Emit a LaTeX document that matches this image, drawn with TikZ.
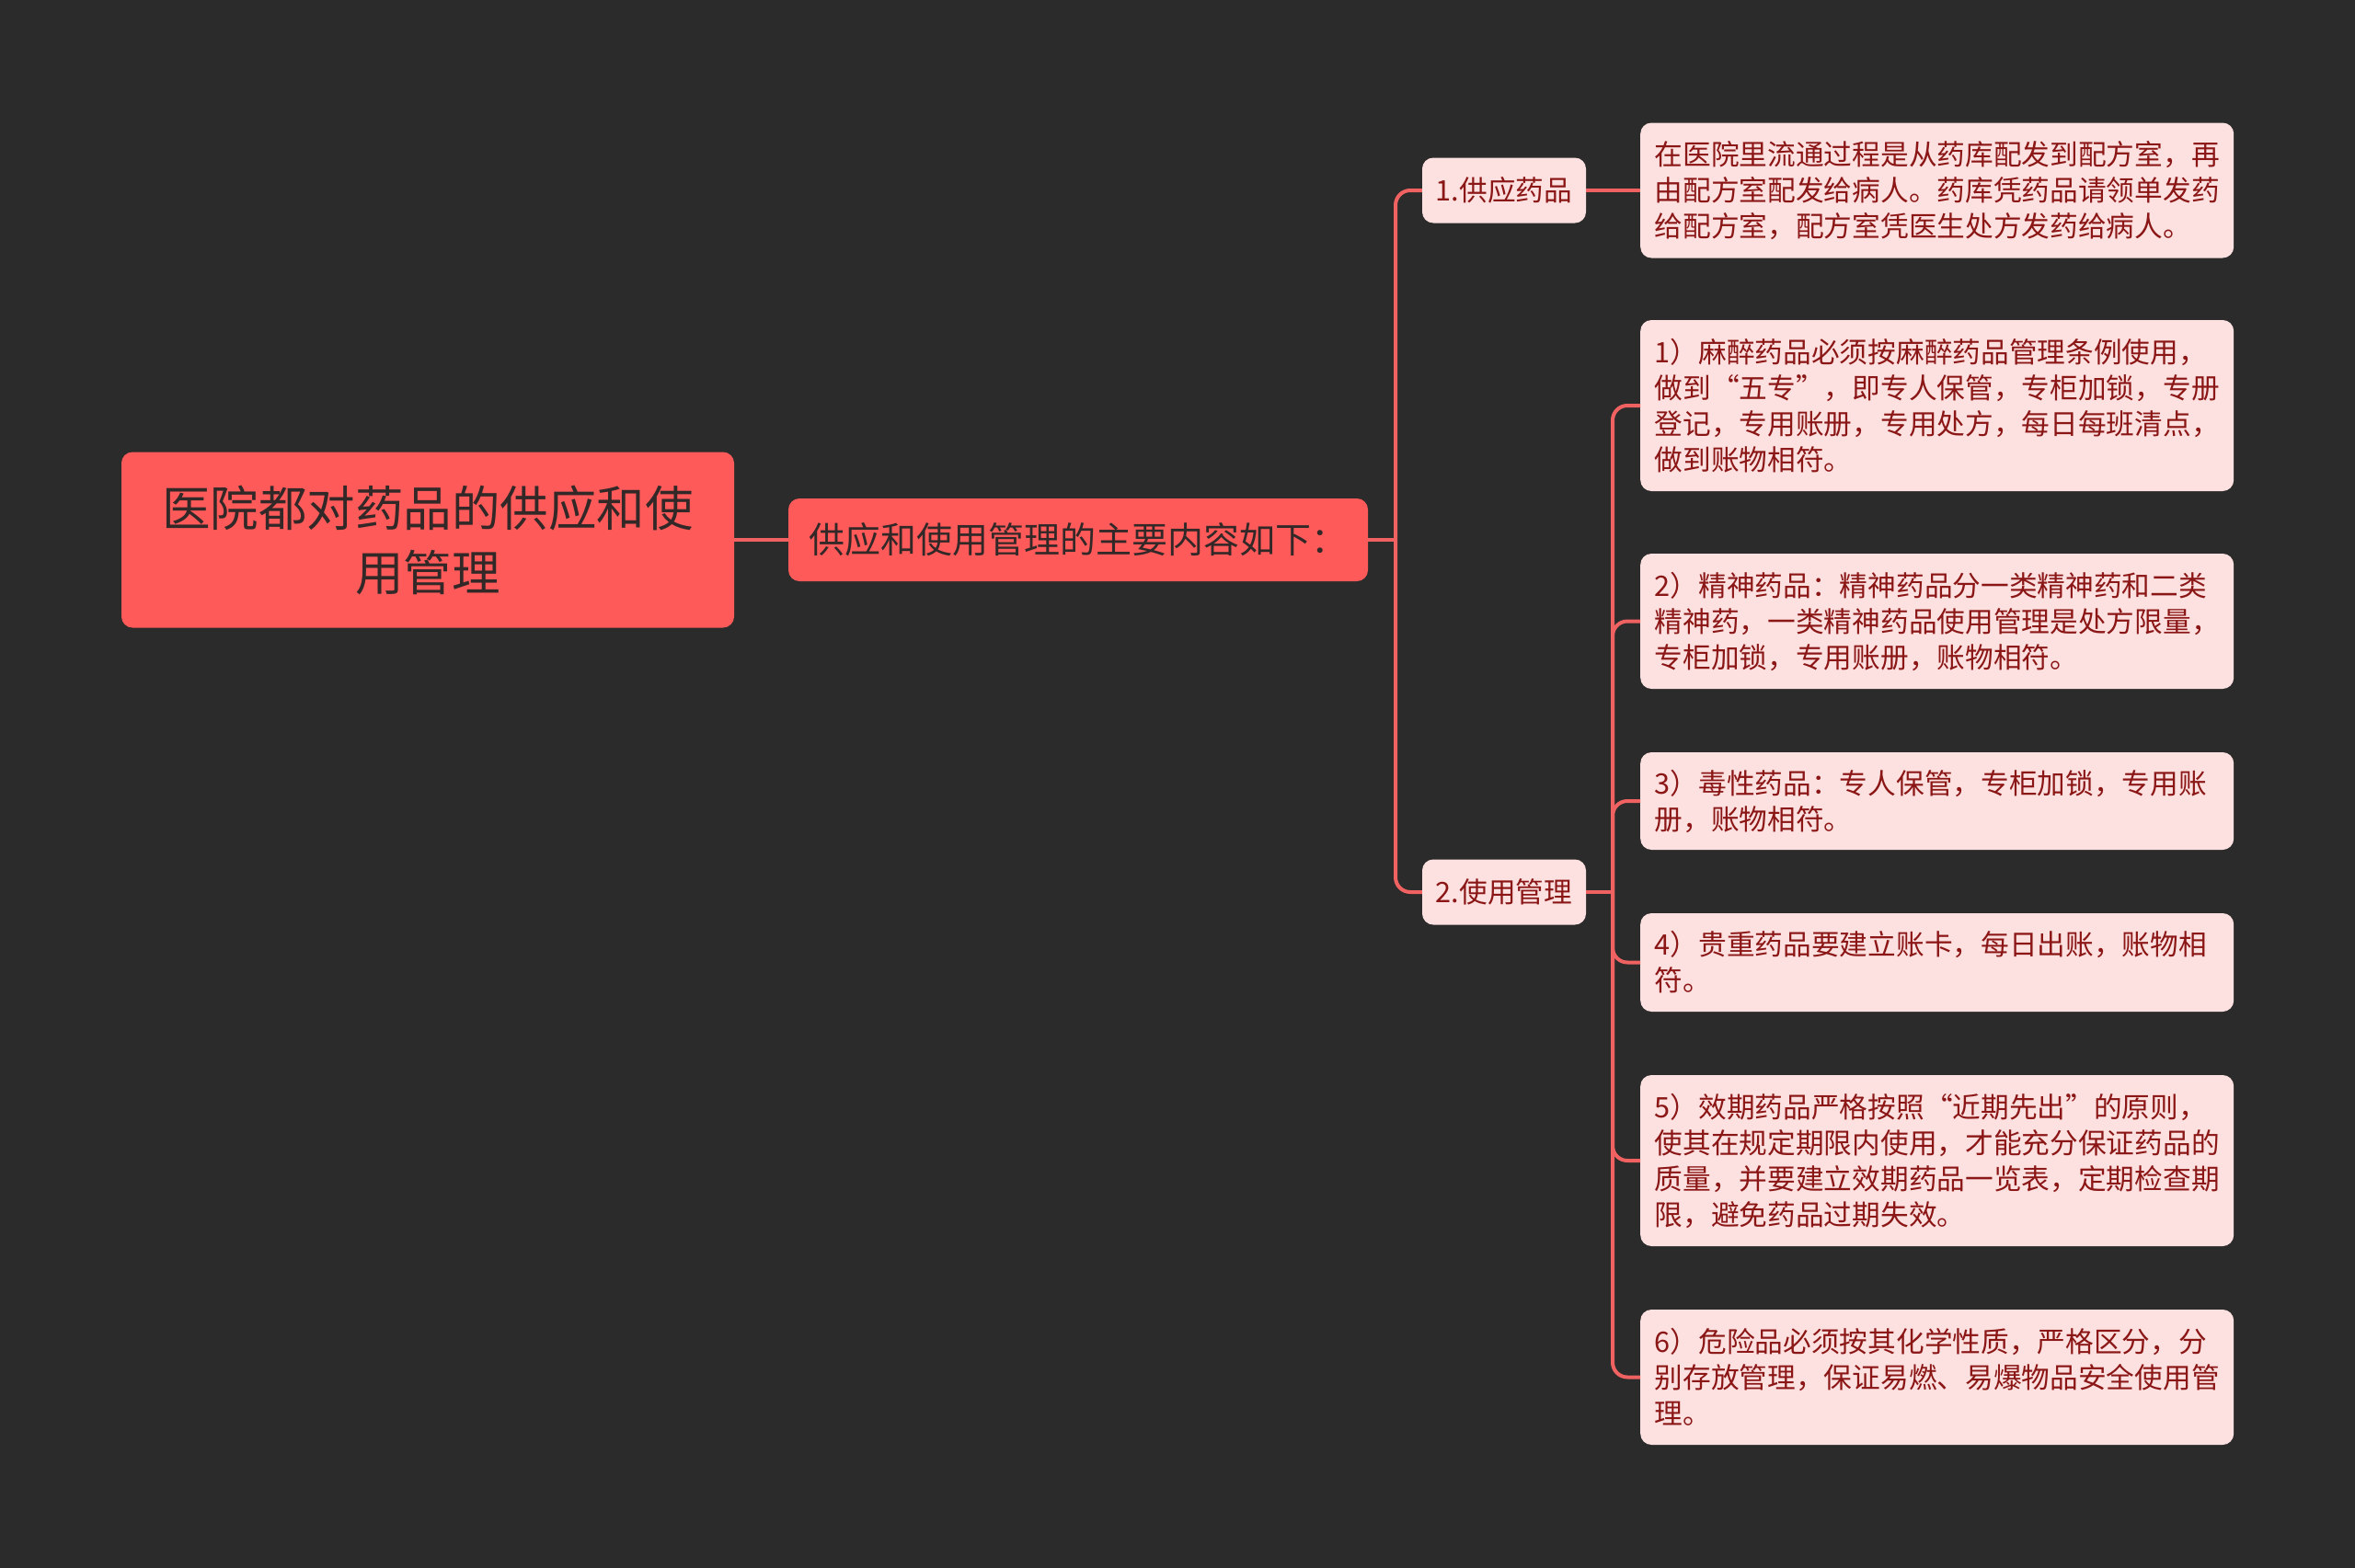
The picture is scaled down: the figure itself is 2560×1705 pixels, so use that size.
\documentclass[tikz,border=0pt]{standalone}
\usepackage{fontspec}
\setmainfont{Noto Sans CJK SC}
\definecolor{bg}{RGB}{43,43,43}
\definecolor{rootfill}{RGB}{255,90,90}
\definecolor{leaffill}{RGB}{253,224,224}
\definecolor{leaftext}{RGB}{139,22,22}
\definecolor{linecol}{RGB}{240,98,98}
\definecolor{roottext}{RGB}{51,40,40}
\begin{document}
\begin{tikzpicture}[x=1pt,y=-1pt,
  rootbox/.style={draw=none, fill=rootfill, rounded corners=12pt, text=roottext, align=center, inner sep=0pt},
  leafbox/.style={fill=leaffill, rounded corners=12pt, text=leaftext, align=left, text width=614pt, inner xsep=15.5pt, inner ysep=0pt, font=\fontsize{30.7}{39}\selectfont, anchor=west},
  subbox/.style={fill=leaffill, rounded corners=12pt, text=leaftext, minimum width=178pt, minimum height=71pt, inner sep=0pt, font=\fontsize{30.7}{39}\selectfont},
  conn/.style={draw=linecol, line width=4pt, rounded corners=16pt}
]
\fill[bg] (0,0) rectangle (2560,1705);
\useasboundingbox (0,0) rectangle (2560,1705);

\node[rootbox, minimum width=666pt, minimum height=191pt, text width=640pt, font=\fontsize{52.5}{70}\selectfont] (root) at (465,587) {医院都对药品的供应和使\\用管理};
\node[rootbox, minimum width=630pt, minimum height=90pt, font=\fontsize{39}{47}\selectfont] (main) at (1172,587) {供应和使用管理的主要内容如下：};

\node[subbox] (n1) at (1635,207) {1.供应药品};
\node[subbox] (n2) at (1635,970) {2.使用管理};

\node[leafbox, minimum height=147pt] (leaf0) at (1783,207) {在医院里流通过程是从药库配发到配方室，再\\由配方室配发给病人。药库凭药品请领单发药\\给配方室，配方室凭医生处方发药给病人。};
\node[leafbox, minimum height=186pt] (leaf1) at (1783,441) {1）麻醉药品必须按麻醉药品管理条例使用，\\做到“五专”，即专人保管，专柜加锁，专册\\登记，专用账册，专用处方，每日每班清点，\\做到账物相符。};
\node[leafbox, minimum height=147pt] (leaf2) at (1783,675.5) {2）精神药品：精神药品分一类精神药和二类\\精神药，一类精神药品使用管理是处方限量，\\专柜加锁，专用账册，账物相符。};
\node[leafbox, minimum height=106pt] (leaf3) at (1783,871) {3）毒性药品：专人保管，专柜加锁，专用账\\册，账物相符。};
\node[leafbox, minimum height=107pt] (leaf4) at (1783,1046.5) {4）贵重药品要建立账卡，每日出账，账物相\\符。};
\node[leafbox, minimum height=186pt] (leaf5) at (1783,1262) {5）效期药品严格按照“近期先出”的原则，\\使其在规定期限内使用，才能充分保证药品的\\质量，并要建立效期药品一览表，定期检查期\\限，避免药品过期失效。};
\node[leafbox, minimum height=147pt] (leaf6) at (1783,1497.5) {6）危险品必须按其化学性质，严格区分，分\\别存放管理，保证易燃、易爆物品安全使用管\\理。};

\draw[conn] (root.east) -- (main.west);
\coordinate (j1) at (1517,587);
\draw[conn] (main.east) -- (j1);
\draw[conn] (j1) |- (n1.west);
\draw[conn] (j1) |- (n2.west);
\draw[conn] (n1.east) -- (leaf0.west);
\coordinate (j2) at (1753,970);
\draw[conn] (n2.east) -- (j2);
\foreach \k in {1,...,6} {
  \draw[conn] (j2) |- (leaf\k.west);
}
\end{tikzpicture}
\end{document}
